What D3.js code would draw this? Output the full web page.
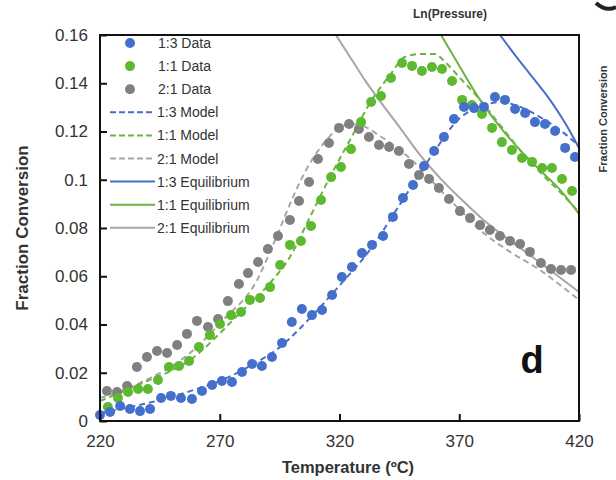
<!DOCTYPE html>
<html><head><meta charset="utf-8">
<script src="https://cdn.jsdelivr.net/npm/d3@7/dist/d3.min.js"></script>
<style>body{margin:0;background:#fff;}svg{display:block;font-family:"Liberation Sans",Arial,sans-serif;}</style>
</head><body><svg id="c" width="616" height="480"></svg>
<script>
// ---- Data ----
const xTicks = [220, 270, 320, 370, 420];
const yTicks = [0, 0.02, 0.04, 0.06, 0.08, 0.1, 0.12, 0.14, 0.16];
const yTickLabels = ["0", "0.02", "0.04", "0.06", "0.08", "0.1", "0.12", "0.14", "0.16"];

const blueT = [220.0,224.2,228.4,232.5,236.7,240.9,245.5,249.6,253.8,258.4,262.6,266.8,270.9,275.1,279.3,283.5,287.6,291.8,296.0,300.1,304.3,308.5,312.7,316.9,321.0,325.2,329.4,333.6,338.2,342.3,346.5,350.7,355.3,359.5,363.6,367.8,372.0,376.2,380.3,384.9,389.1,393.3,397.5,401.6,405.8,410.0,414.2,418.3];
const blueV = [0.0025,0.0037,0.0062,0.0050,0.0041,0.0050,0.0095,0.0104,0.0095,0.0091,0.0124,0.0149,0.0166,0.0162,0.0203,0.0236,0.0228,0.0265,0.0323,0.0410,0.0464,0.0439,0.0460,0.0522,0.0597,0.0638,0.0696,0.0730,0.0767,0.0846,0.0924,0.0978,0.1057,0.1119,0.1177,0.1252,0.1302,0.1297,0.1302,0.1343,0.1331,0.1293,0.1277,0.1239,0.1231,0.1202,0.1132,0.1094];

const greenT = [223.3,227.5,231.7,235.9,240.0,244.2,248.8,253.0,257.2,261.3,265.9,270.1,274.7,278.9,282.6,286.8,291.0,295.2,299.3,303.9,308.1,312.3,316.5,320.6,324.8,329.0,333.2,337.3,341.5,346.1,350.3,354.4,358.6,362.8,367.0,371.2,375.3,379.5,383.7,387.8,392.0,396.2,400.4,404.6,408.7,412.9,417.1];
const greenV = [0.0058,0.0095,0.0120,0.0133,0.0133,0.0170,0.0224,0.0228,0.0249,0.0307,0.0356,0.0402,0.0439,0.0452,0.0502,0.0510,0.0555,0.0647,0.0730,0.0746,0.0808,0.0916,0.1011,0.1053,0.1127,0.1239,0.1322,0.1347,0.1422,0.1484,0.1472,0.1451,0.1467,0.1459,0.1409,0.1331,0.1310,0.1273,0.1215,0.1156,0.1123,0.1090,0.1074,0.1049,0.1049,0.1003,0.0953];

const grayT = [222.9,227.1,231.3,235.4,239.6,243.8,248.0,252.2,256.3,260.5,265.1,269.3,273.4,278.0,281.8,286.0,290.1,294.3,299.3,303.1,307.3,311.0,315.6,319.8,324.0,328.1,332.3,336.5,340.7,344.8,349.0,353.2,357.4,361.5,365.7,370.3,374.5,378.7,382.8,387.0,391.2,395.4,399.5,404.1,408.3,412.5,416.7];
const grayV = [0.0124,0.0120,0.0145,0.0224,0.0265,0.0290,0.0282,0.0315,0.0361,0.0415,0.0390,0.0423,0.0497,0.0568,0.0613,0.0659,0.0713,0.0767,0.0833,0.0912,0.0991,0.1086,0.1152,0.1215,0.1231,0.1210,0.1177,0.1144,0.1136,0.1119,0.1065,0.1020,0.1003,0.0966,0.0920,0.0870,0.0841,0.0812,0.0792,0.0767,0.0746,0.0734,0.0701,0.0655,0.0630,0.0626,0.0626];

const blueModelT = [220,232.5,245.1,257.6,270.1,282.6,295.2,307.7,320.2,332.7,345.3,357.8,370.3,378.7,387.0,395.4,403.7,412.1,420];
const blueModelV = [0.0033,0.0058,0.0087,0.0124,0.0166,0.0228,0.0307,0.0427,0.0564,0.0709,0.0899,0.1090,0.1256,0.1302,0.1322,0.1302,0.1260,0.1206,0.1140];

const greenModelT = [220,236.7,257.6,278.5,291.0,299.3,307.7,316.0,324.4,332.7,341.1,347.3,353.6,359.9,364.1,370.3,378.7,387.0,395.4,403.7,412.1,420];
const greenModelV = [0.0083,0.0153,0.0253,0.0448,0.0572,0.0680,0.0846,0.1011,0.1165,0.1318,0.1434,0.1509,0.1521,0.1521,0.1488,0.1422,0.1331,0.1227,0.1123,0.1032,0.0949,0.0866];

const grayModelT = [220,236.7,257.6,271.4,285.6,291.0,295.2,299.3,303.5,307.7,311.9,316.0,320.2,324.4,328.6,336.9,345.3,353.6,362.0,370.3,378.7,391.2,403.7,412.1,420];
const grayModelV = [0.0095,0.0158,0.0282,0.0419,0.0584,0.0701,0.0800,0.0899,0.0991,0.1069,0.1132,0.1181,0.1215,0.1231,0.1227,0.1181,0.1123,0.1049,0.0958,0.0875,0.0792,0.0701,0.0626,0.0564,0.0502];

const blueEqT = [387.0,393.3,400.8,407.9,414.2,420];
const blueEqV = [0.16,0.1517,0.1422,0.1331,0.1235,0.1132];
const greenEqT = [362.4,370.3,378.7,387.0,395.4,403.7,412.1,420];
const greenEqV = [0.16,0.1467,0.1331,0.1219,0.1123,0.1040,0.0958,0.0858];
const grayEqT = [318.5,324.4,330.6,336.9,345.3,353.6,362.0,370.3,378.7,387.0,396.6,407.9,420];
const grayEqV = [0.16,0.1509,0.1413,0.1326,0.1215,0.1103,0.1007,0.0924,0.0846,0.0779,0.0709,0.0626,0.0535];

const legendLabels = ["1:3 Data","1:1 Data","2:1 Data","1:3 Model","1:1 Model","2:1 Model","1:3 Equilibrium","1:1 Equilibrium","2:1 Equilibrium"];

// ---- Styles ----
const C = {blue:"#4470cc", green:"#5cb930", gray:"#808080",
           blueLine:"#4a6fc8", greenLine:"#6cb440", grayLine:"#a6a6a6"};

const svg = d3.select("#c");
const L = 100, R = 579, T = 35, B = 421;
const x = d3.scaleLinear().domain([220, 420]).range([L, R]);
const y = d3.scaleLinear().domain([0, 0.16]).range([B, T]);

const zip = (a, b) => a.map((t, i) => [t, b[i]]);
const clipId = "plotclip";
svg.append("defs").append("clipPath").attr("id", clipId)
  .append("rect").attr("x", L).attr("y", T).attr("width", R - L).attr("height", B - T);

const line = d3.line().x(d => x(d[0])).y(d => y(d[1])).curve(d3.curveMonotoneX);
const g = svg.append("g").attr("clip-path", `url(#${clipId})`);

// equilibrium lines
[[grayEqT, grayEqV, C.grayLine],[greenEqT, greenEqV, C.greenLine],[blueEqT, blueEqV, C.blueLine]].forEach(([t,v,c]) => {
  g.append("path").attr("d", line(zip(t,v))).attr("fill","none").attr("stroke",c).attr("stroke-width",2);
});

// points
[[grayT, grayV, C.gray],[greenT, greenV, C.green],[blueT, blueV, C.blue]].forEach(([t,v,c]) => {
  svg.append("g").selectAll("circle").data(zip(t,v)).join("circle")
    .attr("cx", d => x(d[0])).attr("cy", d => y(d[1])).attr("r", 5).attr("fill", c);
});

// model lines (dashed)
[[grayModelT, grayModelV, C.grayLine],[greenModelT, greenModelV, C.greenLine],[blueModelT, blueModelV, C.blueLine]].forEach(([t,v,c]) => {
  g.append("path").attr("d", line(zip(t,v))).attr("fill","none").attr("stroke",c)
    .attr("stroke-width",2).attr("stroke-dasharray","6,4");
});

// frame
svg.append("rect").attr("x", L).attr("y", T).attr("width", R - L).attr("height", B - T)
  .attr("fill","none").attr("stroke","#111").attr("stroke-width",2);

// axes (ticks inside)
const xAxis = d3.axisBottom(x).tickValues(xTicks).tickSize(-7).tickPadding(14).tickFormat(d3.format("d"));
const gx = svg.append("g").attr("transform", `translate(0,${B})`).call(xAxis);
gx.select(".domain").remove();
gx.selectAll("line").attr("stroke","#111").attr("stroke-width",2);
gx.selectAll("text").attr("font-size",17).attr("fill","#333");

const yAxis = d3.axisLeft(y).tickValues(yTicks).tickSize(-7).tickPadding(12).tickFormat((d,i) => yTickLabels[i]);
const gy = svg.append("g").attr("transform", `translate(${L},0)`).call(yAxis);
gy.select(".domain").remove();
gy.selectAll("line").attr("stroke","#111").attr("stroke-width",2);
gy.selectAll("text").attr("font-size",17).attr("fill","#333");

// axis titles
svg.append("text").attr("x", 348).attr("y", 473).attr("text-anchor","middle")
  .attr("font-size",16.5).attr("font-weight","bold").attr("fill","#333").text("Temperature (ºC)");
svg.append("text").attr("transform","translate(28,228) rotate(-90)").attr("text-anchor","middle")
  .attr("font-size",17).attr("font-weight","bold").attr("fill","#333").text("Fraction Conversion");

// legend
const lg = svg.append("g");
const legendColors = [C.blue, C.green, C.gray, C.blueLine, C.greenLine, C.grayLine, C.blueLine, C.greenLine, C.grayLine];
legendLabels.forEach((lab, i) => {
  const yy = 43 + i * 23.1;
  if (i < 3) {
    lg.append("circle").attr("cx", 130).attr("cy", yy).attr("r", 5).attr("fill", legendColors[i]);
  } else {
    lg.append("line").attr("x1", 110).attr("x2", 155).attr("y1", yy).attr("y2", yy)
      .attr("stroke", legendColors[i]).attr("stroke-width", 2)
      .attr("stroke-dasharray", i < 6 ? "6,3" : null);
  }
  lg.append("text").attr("x", i < 3 ? 158 : 157).attr("y", yy + 5).attr("font-size", 14)
    .attr("fill", "#333").text(lab);
});

// panel letter
svg.append("text").attr("x", 532).attr("y", 373).attr("text-anchor","middle")
  .attr("font-size",38).attr("font-weight","bold").attr("fill","#111").text("d");

// cropped neighbouring-panel fragments
svg.append("text").attr("x", 450).attr("y", 18).attr("text-anchor","middle")
  .attr("font-size",12).attr("font-weight","bold").attr("fill","#333").text("Ln(Pressure)");
svg.append("text").attr("transform","translate(607,119) rotate(-90)").attr("text-anchor","middle")
  .attr("font-size",11).attr("font-weight","bold").attr("fill","#333").text("Fraction Conversion");
svg.append("path").attr("d","M596,3 Q606,12 616,7").attr("fill","none").attr("stroke","#222").attr("stroke-width",4);
</script></body></html>
